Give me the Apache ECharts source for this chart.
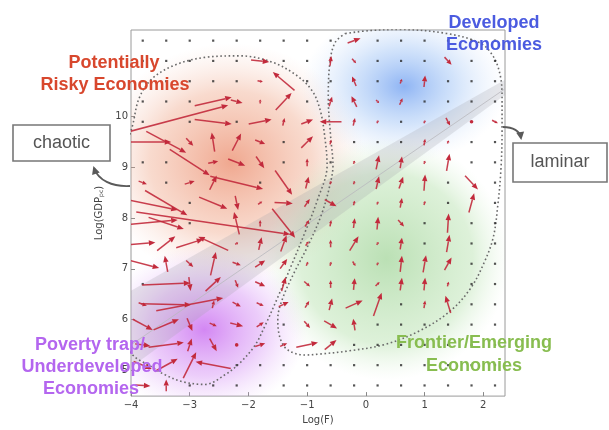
<!DOCTYPE html>
<html>
<head>
<meta charset="utf-8">
<script src="https://cdn.jsdelivr.net/npm/echarts@6/dist/echarts.min.js"></script>
<style>html,body{margin:0;padding:0;background:#fff}#c{width:609px;height:430px}</style>
</head>
<body>
<div id="c"></div>
<script>
// ---- data ----
const gridX = [-3.8,-3.4,-3.0,-2.6,-2.2,-1.8,-1.4,-1.0,-0.6,-0.2,0.2,0.6,1.0,1.4,1.8,2.2];
const gridY = [11.5,11.1,10.7,10.3,9.9,9.5,9.1,8.7,8.3,7.9,7.5,7.1,6.7,6.3,5.9,5.5,5.1,4.7];
const xTicks = [-4,-3,-2,-1,0,1,2];
const yTicks = [5,6,7,8,9,10];
// vectors: [logF, logGDP, dLogF, dLogGDP]
const vectors = [
 [-0.2,11.5,0.22,0.09],
 [-1.8,11.1,0.31,-0.04],[-0.6,11.1,0.02,0.19],[-0.2,11.1,0.07,-0.09],[1.4,11.1,0.12,-0.15],
 [-1.8,10.7,0.09,-0.02],[-1.4,10.7,-0.37,0.36],[-0.2,10.7,-0.07,0.19],[0.6,10.7,0.03,0.09],[1.0,10.7,0.02,0.23],
 [-2.6,10.3,0.63,0.17],[-2.2,10.3,0.20,-0.06],[-1.8,10.3,0.0,0.08],[-1.4,10.3,0.27,0.34],[-0.6,10.3,0.05,0.19],[-0.2,10.3,-0.09,0.21],[0.2,10.3,0.05,-0.06],[0.6,10.3,0.05,0.13],
 [-3.4,9.9,2.11,0.65],[-2.6,9.9,0.63,-0.09],[-1.8,9.9,0.39,0.09],[-1.4,9.9,0.03,0.15],[-1.0,9.9,0.20,0.09],[-0.6,9.9,-0.37,0.0],[-0.2,9.9,0.03,0.15],[0.2,9.9,0.02,0.06],[1.0,9.9,0.02,0.06],[1.4,9.9,0.07,-0.15],[1.8,9.9,0.03,-0.04],[2.2,9.9,0.10,-0.06],
 [-3.8,9.5,0.97,0.0],[-3.4,9.5,0.68,-0.42],[-3.0,9.5,0.12,-0.15],[-2.6,9.5,-0.05,0.38],[-2.2,9.5,0.15,0.34],[-1.8,9.5,0.17,-0.08],[-1.0,9.5,0.20,0.23],[-0.6,9.5,0.02,0.09],[1.0,9.5,0.02,0.13],[1.4,9.5,0.02,0.06],
 [-3.0,9.1,0.68,-0.51],[-2.6,9.1,0.17,0.04],[-2.2,9.1,0.29,-0.13],[-1.8,9.1,0.14,-0.23],[-1.0,9.1,0.0,0.15],[-0.2,9.1,0.02,0.06],[0.2,9.1,0.05,0.28],[0.6,9.1,0.03,0.23],[1.0,9.1,0.02,0.06],[1.4,9.1,0.05,0.34],
 [-3.8,8.7,0.14,-0.06],[-3.0,8.7,0.17,0.06],[-2.6,8.7,0.12,0.28],[-2.2,8.7,0.90,-0.25],[-1.4,8.7,0.29,-0.48],[-1.0,8.7,0.05,0.23],[-0.6,8.7,0.02,0.06],[-0.2,8.7,0.02,0.06],[0.2,8.7,0.05,0.25],[0.6,8.7,0.07,0.23],[1.0,8.7,0.02,0.32],[1.8,8.7,0.22,-0.27],
 [-3.8,8.3,1.19,-0.28],[-3.4,8.3,0.72,-0.49],[-2.6,8.3,0.48,-0.23],[-2.2,8.3,0.05,-0.28],[-1.8,8.3,0.07,0.06],[-1.4,8.3,0.31,-0.02],[-1.0,8.3,0.09,0.15],[-0.6,8.3,0.20,-0.13],[-0.2,8.3,0.02,0.09],[0.2,8.3,0.02,0.06],[0.6,8.3,0.03,0.19],[1.0,8.3,0.02,0.08],[1.8,8.3,0.09,0.38],
 [-3.8,7.9,1.19,0.13],[-3.4,7.9,0.60,-0.23],[-2.6,7.9,2.62,-0.44],[-2.2,7.9,-0.09,0.44],[-1.8,7.9,0.0,0.13],[-1.4,7.9,0.39,-0.57],[-1.0,7.9,0.07,0.13],[-0.6,7.9,0.02,0.13],[-0.2,7.9,0.02,0.19],[0.2,7.9,0.02,0.25],[0.6,7.9,0.10,-0.13],[1.4,7.9,0.02,0.38],
 [-3.8,7.5,0.43,0.04],[-3.4,7.5,0.31,0.28],[-3.0,7.5,0.46,0.17],[-2.6,7.5,-0.51,0.27],[-2.2,7.5,0.05,0.04],[-1.8,7.5,0.05,0.25],[-1.4,7.5,0.10,0.32],[-1.0,7.5,0.05,0.09],[-0.6,7.5,0.0,0.15],[-0.2,7.5,0.15,0.28],[0.2,7.5,0.03,0.06],[0.6,7.5,0.03,0.23],[1.4,7.5,0.05,0.34],
 [-3.8,7.1,0.56,-0.17],[-3.4,7.1,-0.05,0.32],[-3.0,7.1,0.12,-0.13],[-2.6,7.1,0.09,0.46],[-2.2,7.1,0.14,-0.06],[-1.8,7.1,0.17,0.13],[-1.4,7.1,0.12,0.19],[-1.0,7.1,0.03,0.08],[-0.6,7.1,0.02,0.08],[-0.2,7.1,0.05,-0.09],[0.2,7.1,0.02,0.06],[0.6,7.1,0.03,0.32],[1.0,7.1,0.05,0.34],[1.4,7.1,0.12,0.25],
 [-3.4,6.7,0.82,0.04],[-3.0,6.7,0.03,-0.27],[-2.6,6.7,0.26,0.28],[-2.2,6.7,0.05,-0.15],[-1.8,6.7,0.17,-0.09],[-1.4,6.7,0.07,0.28],[-1.0,6.7,0.10,-0.10],[-0.6,6.7,0.0,0.15],[-0.2,6.7,0.02,0.23],[0.2,6.7,0.07,0.08],[0.6,6.7,0.03,0.25],[1.0,6.7,0.02,0.25],[1.4,6.7,0.02,0.09],
 [-3.8,6.3,0.14,-0.06],[-3.4,6.3,0.85,-0.02],[-3.0,6.3,1.14,0.25],[-2.6,6.3,0.03,0.15],[-2.2,6.3,0.14,-0.09],[-1.8,6.3,0.12,-0.06],[-1.4,6.3,0.17,0.09],[-1.0,6.3,0.07,0.13],[-0.6,6.3,0.05,0.23],[-0.2,6.3,0.29,0.15],[0.2,6.3,0.14,0.46],[1.0,6.3,0.02,0.15],[1.4,6.3,-0.09,0.34],
 [-3.8,5.9,0.34,-0.21],[-3.4,5.9,0.43,0.21],[-3.0,5.9,0.09,-0.25],[-2.6,5.9,0.12,-0.06],[-2.2,5.9,0.22,-0.06],[-1.8,5.9,0.12,0.09],[-1.0,5.9,0.10,-0.13],[-0.6,5.9,0.22,-0.15],[-0.2,5.9,-0.03,0.23],
 [-3.8,5.5,0.26,-0.04],[-3.4,5.5,0.60,0.09],[-3.0,5.5,0.07,0.25],[-2.6,5.5,0.12,-0.25],[-2.2,5.5,0.05,-0.02],[-1.8,5.5,0.17,0.06],[-1.4,5.5,0.12,0.06],[-1.0,5.5,0.37,0.09],[-0.6,5.5,0.20,0.19],
 [-3.8,5.1,0.31,-0.15],[-3.4,5.1,0.39,0.25],[-3.0,5.1,0.22,0.51],[-2.6,5.1,-0.60,0.13],
 [-3.8,4.7,0.26,-0.02],[-3.4,4.7,0.0,0.23]
];
// shaded regions: [centre logF, centre logGDP, radius logF, radius logGDP]
const regionRisky = [-2.3, 9.1, 2.3, 2.35];
const regionDeveloped = [0.65, 10.6, 1.75, 1.5];
const regionEmerging = [0.35, 7.2, 2.1, 2.4];
const regionPoverty = [-2.75, 5.8, 1.75, 1.65];
// transition band (logF, logGDP)
const bandPoints = [[-4,6.57],[2.37,10.73],[2.37,10.43],[-4,5.06]];
const bandLine = [[-4,5.5],[2.37,10.55]];
// dotted cluster outlines (logF, logGDP)
const outlineLeft = [[-4.36,6.0],[-3.97,5.3],[-3.68,5.09],[-3.42,4.91],[-3.11,4.77],[-2.74,4.72],[-2.4,4.91],[-2.14,5.15],[-1.89,5.49],[-1.72,5.87],[-1.5,6.44],[-1.26,7.09],[-1.04,7.71],[-0.83,8.34],[-0.66,9.04],[-0.7,9.61],[-0.78,10.14],[-0.92,10.52],[-1.21,10.84],[-1.63,11.09],[-2.14,11.2],[-2.74,11.17],[-3.25,11.02],[-3.64,10.75],[-3.86,10.37],[-3.98,9.8],[-4.19,9.04]];
const outlineRight = [[-0.35,11.64],[0.07,11.7],[0.58,11.72],[1.38,11.64],[1.95,11.45],[2.17,11.19],[2.29,10.81],[2.32,10.37],[2.32,9.71],[2.3,8.95],[2.25,8.28],[2.17,7.62],[2.01,7.11],[1.78,6.61],[1.43,6.16],[0.92,5.78],[0.33,5.51],[-0.3,5.38],[-0.78,5.32],[-1.04,5.3],[-1.33,5.4],[-1.46,5.63],[-1.5,6.01],[-1.41,6.44],[-1.21,6.95],[-0.98,7.47],[-0.75,8.09],[-0.61,8.66],[-0.56,9.04],[-0.6,9.61],[-0.64,10.37],[-0.61,11.09],[-0.52,11.47],[-0.35,11.64]];

// ---- chart ----
const chart = echarts.init(document.getElementById('c'), null, {renderer:'canvas'});
const ARROW = '#c22a3c';
const key = (x,y)=>x.toFixed(1)+'_'+y.toFixed(1);
const used = new Set(vectors.map(v=>key(v[0],v[1])));
const dots = [];
gridY.forEach(y=>gridX.forEach(x=>{ if(!used.has(key(x,y))) dots.push([x,y]); }));

function renderArrow(params, api){
  const x=api.value(0), y=api.value(1), u=api.value(2), v=api.value(3);
  const p0=api.coord([x-u/2,y-v/2]), p1=api.coord([x+u/2,y+v/2]);
  const dx=p1[0]-p0[0], dy=p1[1]-p0[1], L=Math.hypot(dx,dy);
  if(L<3.2){
    return {type:'circle',shape:{cx:(p0[0]+p1[0])/2,cy:(p0[1]+p1[1])/2,r:1.8},style:{fill:ARROW}};
  }
  const ux=dx/L, uy=dy/L;
  const hl=Math.min(6.5,L*0.5), hw=Math.min(2.7,Math.max(1.5,hl*0.45));
  const bx=p1[0]-ux*hl, by=p1[1]-uy*hl;
  return {type:'group',children:[
    {type:'line',shape:{x1:p0[0],y1:p0[1],x2:bx,y2:by},style:{stroke:ARROW,lineWidth:1.5,opacity:0.9}},
    {type:'polygon',shape:{points:[[p1[0],p1[1]],[bx-uy*hw,by+ux*hw],[bx+uy*hw,by-ux*hw]]},style:{fill:ARROW}}
  ]};
}
const blobColors = [
  [[0,'rgba(232,122,85,0.66)'],[0.6,'rgba(238,158,125,0.38)'],[1,'rgba(245,200,185,0)']],
  [[0,'rgba(105,155,240,0.75)'],[0.5,'rgba(150,190,245,0.42)'],[1,'rgba(200,220,250,0)']],
  [[0,'rgba(145,205,135,0.62)'],[0.7,'rgba(175,222,165,0.42)'],[1,'rgba(210,238,205,0)']],
  [[0,'rgba(200,105,240,0.8)'],[0.55,'rgba(215,150,245,0.48)'],[1,'rgba(230,190,250,0)']]
];
function renderBlob(params, api){
  const c=api.coord([api.value(0),api.value(1)]);
  const s=api.size([api.value(2),api.value(3)]);
  const stops=blobColors[params.dataIndex].map(s=>({offset:s[0],color:s[1]}));
  return {type:'circle',x:c[0],y:c[1],scaleX:s[0],scaleY:s[1],shape:{cx:0,cy:0,r:1},
    style:{fill:new echarts.graphic.RadialGradient(0.5,0.5,0.5,stops)}};
}
function renderBand(params, api){
  const pts=bandPoints.map(p=>api.coord(p));
  const l=bandLine.map(p=>api.coord(p));
  return {type:'group',children:[
    {type:'polygon',shape:{points:pts},style:{fill:'rgba(160,160,168,0.24)'}},
    {type:'line',shape:{x1:l[0][0],y1:l[0][1],x2:l[1][0],y2:l[1][1]},style:{stroke:'rgba(185,185,190,0.8)',lineWidth:1}}
  ]};
}
function curvedArrow(x1,y1,c1x,c1y,c2x,c2y,x2,y2){
  const dx=x2-c2x, dy=y2-c2y, L=Math.hypot(dx,dy), ux=dx/L, uy=dy/L;
  const hl=8, hw=4;
  const tx=x2+ux*2, ty=y2+uy*2;
  const bx=tx-ux*hl, by=ty-uy*hl;
  return [
    {type:'bezierCurve',shape:{x1:x1,y1:y1,cpx1:c1x,cpy1:c1y,cpx2:c2x,cpy2:c2y,x2:x2,y2:y2},style:{stroke:'#5a5a5a',lineWidth:1.8,fill:null},z:100},
    {type:'polygon',shape:{points:[[tx,ty],[bx-uy*hw,by+ux*hw],[bx+uy*hw,by-ux*hw]]},style:{fill:'#5a5a5a'},z:100}
  ];
}
const T = (txt,x,y,color)=>({type:'text',x:x,y:y,z:110,style:{text:txt,fill:color,font:'bold 18px "Liberation Sans", Arial, sans-serif',align:'center',verticalAlign:'middle'}});
const minus = v => v<0 ? '\u2212'+Math.abs(v) : String(v);

chart.setOption({
  animation:false,
  backgroundColor:'#fff',
  grid:{left:131,top:30,width:374,height:380,show:true,borderColor:'#9a9a9a',borderWidth:1,backgroundColor:'rgba(0,0,0,0)'},
  xAxis:{type:'value',min:-4,max:2.37,interval:1,
    axisLine:{show:false,onZero:false},splitLine:{show:false},
    axisTick:{show:true,inside:true,length:4,lineStyle:{color:'#888'}},
    axisLabel:{showMaxLabel:false,color:'#444',fontSize:10,fontFamily:'DejaVu Sans',margin:4,formatter:minus},
    name:'Log(F)',nameLocation:'middle',nameGap:13,nameTextStyle:{color:'#444',fontSize:10,fontFamily:'DejaVu Sans'}},
  yAxis:{type:'value',min:4.49,max:11.71,
    axisLine:{show:false,onZero:false},splitLine:{show:false},
    axisTick:{show:true,inside:true,length:4,customValues:yTicks,lineStyle:{color:'#888'}},
    axisLabel:{customValues:yTicks,color:'#444',fontSize:10,fontFamily:'DejaVu Sans',margin:3},
    name:'{a|Log(GDP}{b|pc}{a|)}',nameLocation:'middle',nameGap:19,
    nameTextStyle:{rich:{a:{fontSize:10,color:'#444',fontFamily:'DejaVu Sans'},b:{fontSize:6,color:'#444',fontFamily:'DejaVu Sans',verticalAlign:'bottom',padding:[4,0,0,0]}}}},
  series:[
    {type:'custom',name:'regions',renderItem:renderBlob,clip:true,silent:true,z:1,encode:{x:0,y:1},
      data:[regionRisky,regionDeveloped,regionEmerging,regionPoverty]},
    {type:'custom',name:'band',renderItem:renderBand,clip:true,silent:true,z:2,data:[[0,8]],encode:{x:0,y:1}},
    {type:'line',name:'outlineLeft',data:outlineLeft,smooth:0.35,symbol:'none',clip:true,silent:true,z:3,
      lineStyle:{color:'#6a6a6a',width:1.6,type:[1.6,2.6]}},
    {type:'line',name:'outlineRight',data:outlineRight,smooth:0.35,symbol:'none',clip:true,silent:true,z:3,
      lineStyle:{color:'#6a6a6a',width:1.6,type:[1.6,2.6]}},
    {type:'scatter',name:'grid',data:dots,symbol:'rect',symbolSize:2.2,itemStyle:{color:'#2a2a2a'},silent:true,z:4},
    {type:'custom',name:'flow',renderItem:renderArrow,clip:true,silent:true,z:5,encode:{x:0,y:1},data:vectors}
  ],
  graphic:[
    T('Potentially',114,63,'#d8472d'),
    T('Risky Economies',115,85,'#d8472d'),
    T('Developed',494,23,'#4b5be0'),
    T('Economies',494,45,'#4b5be0'),
    T('Poverty trap/',90,345,'#b466ef'),
    T('Underdeveloped',92,367,'#b466ef'),
    T('Economies',91,389,'#b466ef'),
    T('Frontier/Emerging',474,343,'#88bd50'),
    T('Economies',474,366,'#88bd50'),
    {type:'rect',z:100,shape:{x:13,y:125,width:97,height:36},style:{fill:'#fff',stroke:'#777',lineWidth:1.6}},
    {type:'text',z:101,x:61.5,y:143,style:{text:'chaotic',fill:'#555',font:'18px "Liberation Sans", Arial, sans-serif',align:'center',verticalAlign:'middle'}},
    {type:'rect',z:100,shape:{x:513,y:143,width:94,height:39},style:{fill:'#fff',stroke:'#777',lineWidth:1.6}},
    {type:'text',z:101,x:560,y:162.5,style:{text:'laminar',fill:'#555',font:'18px "Liberation Sans", Arial, sans-serif',align:'center',verticalAlign:'middle'}},
    ...curvedArrow(130,186,112,187,98,180,94,168),
    ...curvedArrow(503,127,513,127,520,131,521,138)
  ]
});
</script>
</body>
</html>
